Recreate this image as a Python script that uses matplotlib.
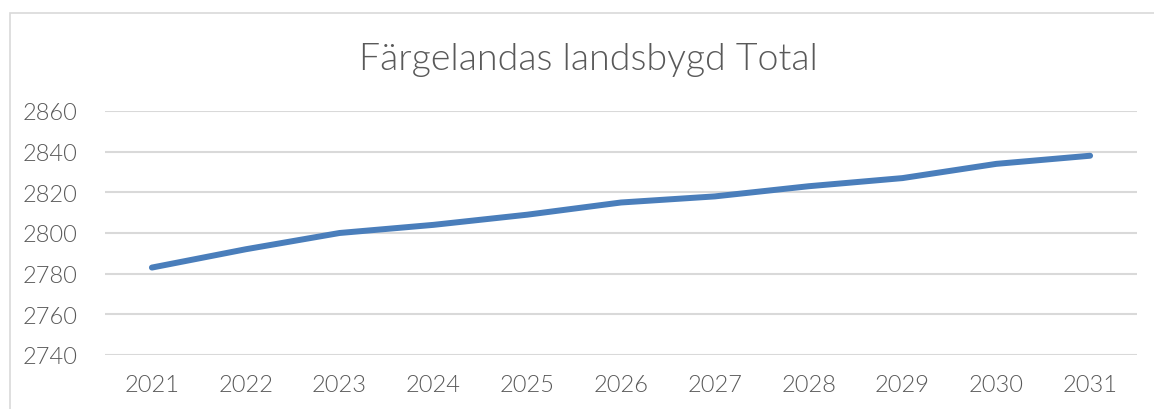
import matplotlib.pyplot as plt
from matplotlib.patches import Rectangle

# Data
years = ['2021', '2022', '2023', '2024', '2025', '2026', '2027', '2028', '2029', '2030', '2031']
total = [2783, 2792, 2800, 2804, 2809, 2815, 2818, 2823, 2827, 2834, 2838]
y_ticks = [2740, 2760, 2780, 2800, 2820, 2840, 2860]

text_color = '#595959'
grid_color = '#d9d9d9'
line_color = '#4a7ebb'

plt.rcParams['font.family'] = ['Lato', 'DejaVu Sans']
plt.rcParams['font.weight'] = 300

W, H = 1154, 410
fig = plt.figure(figsize=(W / 100, H / 100), dpi=100)
ax = fig.add_axes([105 / W, 1 - 356 / H, (1137 - 105) / W, (356 - 112) / H])

# outer chart border (cropped at right and bottom)
fig.patches.append(Rectangle((10 / W, -0.1), 2, 1 - 14 / H + 0.1, transform=fig.transFigure,
                             fill=False, edgecolor=grid_color, linewidth=1.2))

x = range(len(years))
ax.plot(x, total, color=line_color, linewidth=4.3, solid_capstyle='round', solid_joinstyle='round')

ax.set_xlim(-0.5, len(years) - 0.5)
ax.set_ylim(2740, 2860)
ax.set_yticks(y_ticks)
ax.set_xticks(list(x))
ax.set_xticklabels(years)
ax.grid(axis='y', color=grid_color, linewidth=1.5)
ax.set_axisbelow(True)
for s in ax.spines.values():
    s.set_visible(False)
ax.tick_params(axis='both', length=0, labelsize=17, colors=text_color)
ax.tick_params(axis='y', pad=20)
ax.tick_params(axis='x', pad=14)

fig.text(588 / W, 1 - 60 / H, 'Färgelandas landsbygd Total', ha='center', va='center',
         fontsize=27, color=text_color, fontweight=300)

fig.savefig('out.png', dpi=100)
